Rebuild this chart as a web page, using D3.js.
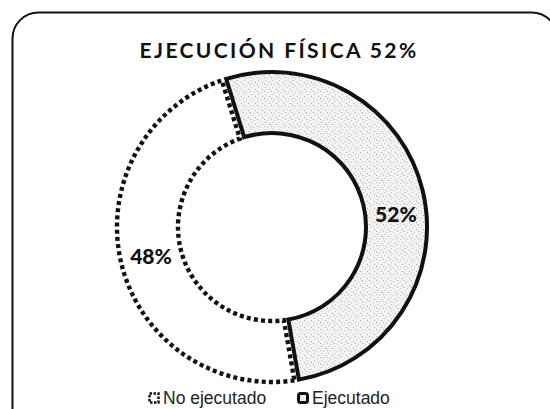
<!DOCTYPE html>
<html>
<head>
<meta charset="utf-8">
<script src="https://cdn.jsdelivr.net/npm/d3@7/dist/d3.min.js"></script>
<style>
  html, body { margin: 0; padding: 0; background: #fff; }
  svg { display: block; }
</style>
</head>
<body>
<svg id="chart" width="550" height="409"></svg>
<script>
// Chart content
const chartTitle = "EJECUCIÓN FÍSICA 52%";
const categories = ["No ejecutado", "Ejecutado"];
const values = [48, 52];
const valueLabels = ["48%", "52%"];

const W = 550, H = 409;
const cx = 272, cy = 227;
const outerR = 155, innerR = 94;
const firstSliceDeg = 170;   // angle where the first slice begins (clockwise from 12 o'clock)

const svg = d3.select("#chart");

// Light stippled grey fill for the executed slice
const defs = svg.append("defs");
const pat = defs.append("pattern")
  .attr("id", "stipple")
  .attr("patternUnits", "userSpaceOnUse")
  .attr("width", 7).attr("height", 7);
pat.append("rect").attr("width", 7).attr("height", 7).attr("fill", "#f2f2f2");
[[0,0],[4,2],[2,5],[6,4]].forEach(([x, y], i) => {
  pat.append("rect").attr("x", x).attr("y", y).attr("width", 1).attr("height", 1)
    .attr("fill", i % 2 ? "#a8a8a8" : "#c4c4c4");
});

// Rounded frame around the chart
svg.append("rect")
  .attr("x", 12.5).attr("y", 12.5)
  .attr("width", 545).attr("height", 430)
  .attr("rx", 26).attr("ry", 26)
  .attr("fill", "none").attr("stroke", "#111").attr("stroke-width", 2);

// Title
svg.append("text")
  .attr("x", 279).attr("y", 58)
  .attr("text-anchor", "middle")
  .attr("font-family", "Lato, 'Open Sans', sans-serif")
  .attr("font-weight", 700)
  .attr("font-size", 21)
  .attr("letter-spacing", "2.4px")
  .attr("fill", "#111")
  .text(chartTitle);

const data = categories.map((c, i) => ({ category: c, value: values[i], label: valueLabels[i] }));

const a0 = firstSliceDeg * Math.PI / 180;
const pie = d3.pie().sort(null).value(d => d.value)
  .startAngle(a0).endAngle(a0 + 2 * Math.PI);
const arcs = pie(data);

const arc = d3.arc()
  .innerRadius(innerR).outerRadius(outerR)
  .padAngle(d => d.data.category === "No ejecutado" ? 0.05 : 0);

const styles = {
  "No ejecutado": { fill: "#ffffff", stroke: "#111", dash: "4 3.2", width: 4.4 },
  "Ejecutado":    { fill: "url(#stipple)", stroke: "#111", dash: null, width: 4 }
};

const g = svg.append("g").attr("transform", `translate(${cx},${cy})`);

g.selectAll("path.slice")
  .data(arcs)
  .join("path")
  .attr("class", "slice")
  .attr("d", arc)
  .attr("fill", d => styles[d.data.category].fill)
  .attr("stroke", d => styles[d.data.category].stroke)
  .attr("stroke-width", d => styles[d.data.category].width)
  .attr("stroke-dasharray", d => styles[d.data.category].dash)
  .attr("stroke-linejoin", "miter");

// Value labels placed on the ring
const labelNudge = { "No ejecutado": 0, "Ejecutado": 8 * Math.PI / 180 };
const labelArc = d3.arc().innerRadius((innerR + outerR) / 2).outerRadius((innerR + outerR) / 2);
g.selectAll("text.val")
  .data(arcs)
  .join("text")
  .attr("class", "val")
  .attr("transform", d => {
    const n = labelNudge[d.data.category];
    const [x, y] = labelArc.centroid({ startAngle: d.startAngle + n, endAngle: d.endAngle + n });
    return `translate(${x},${y})`;
  })
  .attr("text-anchor", "middle")
  .attr("dy", "0.36em")
  .attr("font-family", "Lato, 'Open Sans', sans-serif")
  .attr("font-weight", 900)
  .attr("font-size", 21)
  .attr("fill", "#111")
  .text(d => d.data.label);

// Legend
const legendItems = [
  { category: categories[0], x: 148 },
  { category: categories[1], x: 297 }
];
const lg = svg.append("g");
legendItems.forEach(item => {
  const st = styles[item.category];
  lg.append("rect")
    .attr("x", item.x + 1.5).attr("y", 393.5)
    .attr("width", 9).attr("height", 9)
    .attr("rx", item.category === "Ejecutado" ? 2 : 0)
    .attr("fill", st.fill)
    .attr("stroke", "#111")
    .attr("stroke-width", item.category === "Ejecutado" ? 3 : 2.5)
    .attr("stroke-dasharray", item.category === "Ejecutado" ? null : "2.5 1.5");
  lg.append("text")
    .attr("x", item.x + 15).attr("y", 404)
    .attr("font-family", "'Liberation Sans', Arial, sans-serif")
    .attr("font-size", 17.5)
    .attr("fill", "#222")
    .text(item.category);
});
</script>
</body>
</html>
